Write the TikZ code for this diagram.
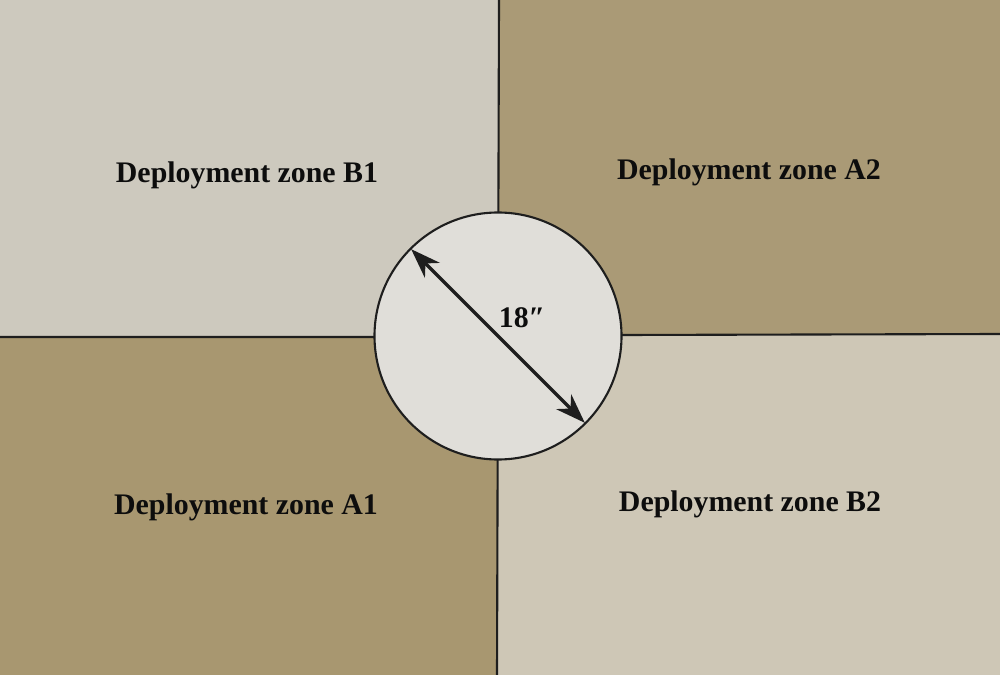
\documentclass[tikz,border=0pt]{standalone}
\usepackage{fontspec}
\setmainfont{Liberation Serif}
\usetikzlibrary{arrows.meta}

\definecolor{zonelight}{RGB}{205,201,190}
\definecolor{zonelightb}{RGB}{206,199,182}
\definecolor{zonedark}{RGB}{170,154,118}
\definecolor{zonedarkb}{RGB}{168,151,112}
\definecolor{centrefill}{RGB}{224,222,217}
\definecolor{inkline}{RGB}{30,30,30}

\begin{document}
\begin{tikzpicture}[x=0.02cm,y=-0.02cm,>={Stealth[length=17pt,width=12pt]},
  zone/.style={font=\fontsize{17}{20}\selectfont\bfseries, text=black!95},
  border/.style={draw=inkline, line width=1.2pt}]
\useasboundingbox (0,0) rectangle (1000,675);

% the four quarters of the table
  \fill[zonelight]  (0,0)     rectangle (499,337);
  \fill[zonedark]   (499,0)   rectangle (1000,335);
  \fill[zonedarkb]  (0,337)   rectangle (498,675);
  \fill[zonelightb] (498,335) rectangle (1000,675);

% the dividing lines
  \coordinate (top)    at (499,0);
  \coordinate (bottom) at (497,675);
  \coordinate (left)   at (0,337);
  \coordinate (right)  at (1000,334);
  \coordinate (mid)    at (498,336);
  \draw[border] (top) -- (mid) -- (bottom);
  \draw[border] (left) -- (375,337) (622,335) -- (right);

% centre objective
  \node[circle, minimum size=247*0.02cm, fill=centrefill, border, inner sep=0pt]
    (ring) at (mid) {};
  \draw[<->, inkline, line width=2pt, shorten <=1pt, shorten >=1pt]
    (ring.135) -- (ring.-45);
  \node[zone] (size) at (522,318) {18″};

% the deployment zones
  \node[zone] (b1) at (247,175) {Deployment zone B1};
  \node[zone] (a2) at (749,172) {Deployment zone A2};
  \node[zone] (a1) at (246,507) {Deployment zone A1};
  \node[zone] (b2) at (750,504) {Deployment zone B2};

\end{tikzpicture}
\end{document}
